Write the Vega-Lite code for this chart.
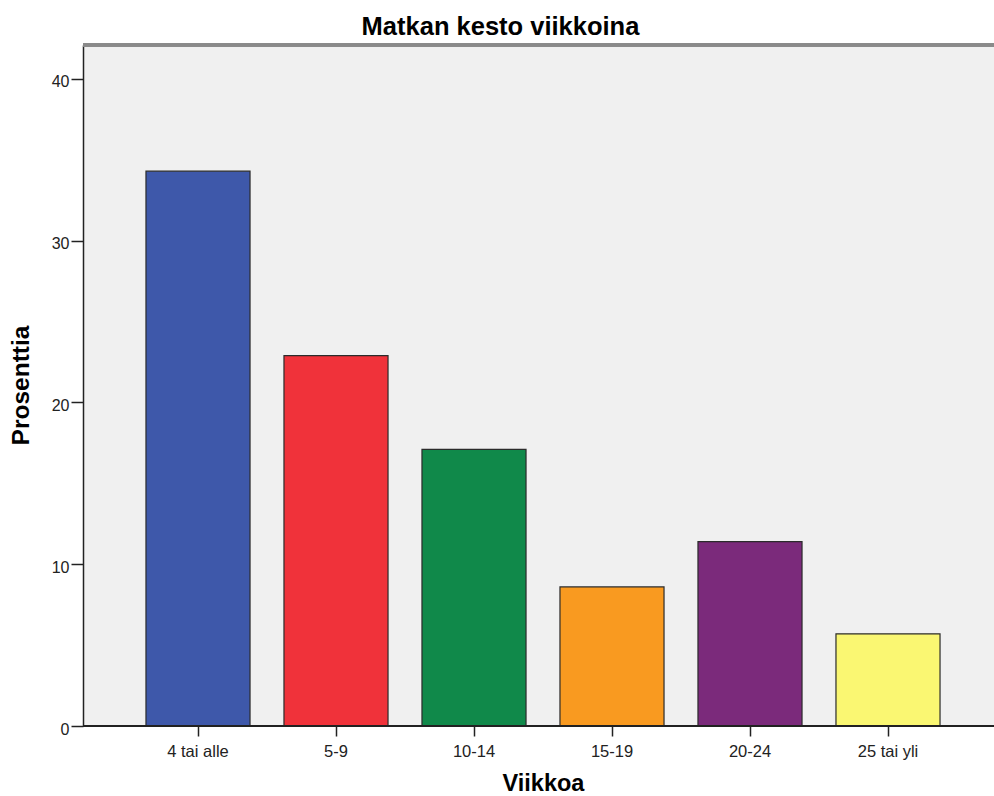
{
  "$schema": "https://vega.github.io/schema/vega-lite/v6.json",
  "autosize": {"type": "none"},
  "padding": {"left": 83, "top": 45, "right": 0, "bottom": 70},
  "width": 911,
  "height": 681,
  "background": "white",
  "config": {
    "font": "Liberation Sans",
    "view": {"fill": "#f0f0f0", "stroke": null}
  },
  "title": {
    "text": "Matkan kesto viikkoina",
    "fontSize": 25.5,
    "fontWeight": "bold",
    "color": "#000000",
    "anchor": "middle",
    "dx": -38,
    "offset": 3
  },
  "data": {
    "values": [
      {"viikkoa": "4 tai alle", "prosenttia": 34.3},
      {"viikkoa": "5-9", "prosenttia": 22.9},
      {"viikkoa": "10-14", "prosenttia": 17.1},
      {"viikkoa": "15-19", "prosenttia": 8.6},
      {"viikkoa": "20-24", "prosenttia": 11.4},
      {"viikkoa": "25 tai yli", "prosenttia": 5.7}
    ]
  },
  "layer": [
    {
      "mark": {"type": "bar", "stroke": "#2b2b2b", "strokeWidth": 1.2},
      "encoding": {
        "x": {
          "field": "viikkoa",
          "type": "nominal",
          "sort": null,
          "scale": {"range": [46, 874], "paddingInner": 0.246, "paddingOuter": 0.123},
          "axis": {
            "title": "Viikkoa",
            "titleFontSize": 23.5,
            "titleFontWeight": "bold",
            "titleColor": "#000000",
            "titleX": 460,
            "titleY": 57,
            "titleBaseline": "middle",
            "labelAngle": 0,
            "labelFontSize": 16.5,
            "labelColor": "#222222",
            "labelPadding": 7,
            "tickSize": 10,
            "tickColor": "#222222",
            "tickWidth": 1.5,
            "domain": false
          }
        },
        "y": {
          "field": "prosenttia",
          "type": "quantitative",
          "scale": {"domain": [0, 42.1], "nice": false},
          "axis": {
            "title": "Prosenttia",
            "titleFontSize": 24.5,
            "titleFontWeight": "bold",
            "titleColor": "#000000",
            "titleX": -62,
            "titleY": 340,
            "titleBaseline": "middle",
            "values": [0, 10, 20, 30, 40],
            "grid": false,
            "labelFontSize": 16,
            "labelColor": "#222222",
            "labelPadding": 2,
            "labelOffset": 3,
            "tickSize": 12,
            "tickColor": "#222222",
            "tickWidth": 1.5,
            "domainColor": "#222222",
            "domainWidth": 1.5
          }
        },
        "color": {
          "field": "viikkoa",
          "type": "nominal",
          "sort": null,
          "scale": {
            "domain": ["4 tai alle", "5-9", "10-14", "15-19", "20-24", "25 tai yli"],
            "range": ["#3e58aa", "#f0323a", "#10894a", "#f99a20", "#7b2a7b", "#faf772"]
          },
          "legend": null
        }
      }
    },
    {
      "mark": {"type": "rule", "color": "#222222", "strokeWidth": 1.5},
      "encoding": {"y": {"datum": 0}}
    },
    {
      "mark": {"type": "rule", "color": "#8a8a8a", "strokeWidth": 3},
      "encoding": {"y": {"datum": 42.1}}
    }
  ]
}
